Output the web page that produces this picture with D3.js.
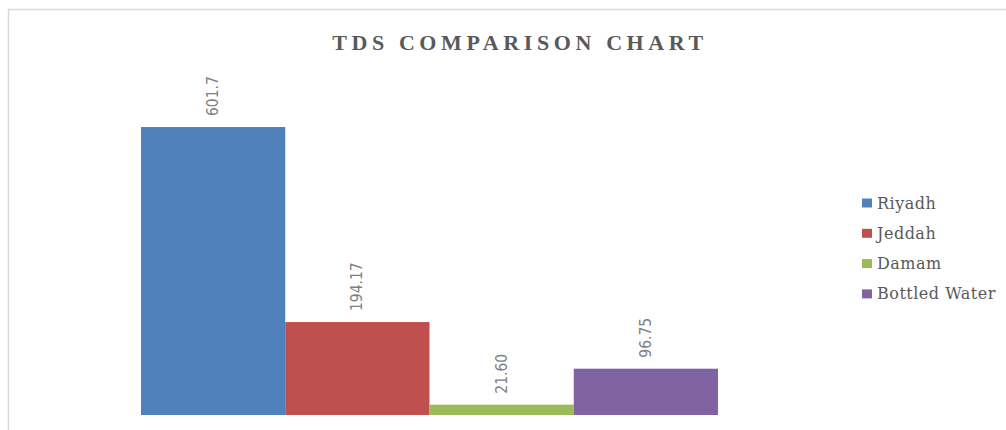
<!DOCTYPE html>
<html>
<head>
<meta charset="utf-8">
<script src="https://cdn.jsdelivr.net/npm/d3@7"></script>
<style>
  body { margin: 0; background: #fff; }
  svg { display: block; }
</style>
</head>
<body>
<script>
    var width = 1006;
    var height = 430;

    // data
    var cities = ["Riyadh", "Jeddah", "Damam", "Bottled Water"];
    var tds = [601.7, 194.17, 21.60, 96.75];
    var tdsLabels = ["601.7", "194.17", "21.60", "96.75"];
    var colors = ["#4f81bd", "#c0504d", "#9bbb59", "#8064a2"];

    var svg = d3.select("body")
        .append("svg")
        .attr("width", width)
        .attr("height", height)

    // chart area border (only top/left visible)
    svg.append("rect")
        .attr("x", 8.5)
        .attr("y", 9.5)
        .attr("width", width + 10)
        .attr("height", height + 10)
        .attr("fill", "none")
        .attr("stroke", "#d9d9d9")
        .attr("stroke-width", 1.5)

    // title
    svg.append("text")
        .attr("x", 520)
        .attr("y", 50)
        .attr("text-anchor", "middle")
        .attr("font-family", "'Liberation Serif', 'DejaVu Serif', serif")
        .attr("font-weight", "bold")
        .attr("font-size", 22)
        .attr("letter-spacing", 4.6)
        .attr("fill", "#595959")
        .text("TDS COMPARISON CHART")

    var x = d3.scaleBand()
        .domain(cities)
        .range([141, 718])
        .padding(0)

    var y = d3.scaleLinear()
        .domain([0, 700])
        .range([415, 80])

    var g = svg.append("g")

    g.selectAll("rect")
        .data(tds)
        .enter()
        .append("rect")
        .attr("x", function(d, i) { return x(cities[i]); })
        .attr("y", function(d) { return y(d); })
        .attr("width", x.bandwidth())
        .attr("height", function(d) { return y(0) - y(d); })
        .attr("fill", function(d, i) { return colors[i]; })

    // value labels, rotated
    g.selectAll(".val")
        .data(tds)
        .enter()
        .append("text")
        .attr("class", "val")
        .attr("transform", function(d, i) {
            var cx = x(cities[i]) + x.bandwidth() / 2;
            return "translate(" + (cx + 5) + "," + (y(d) - 11) + ") rotate(-90)";
        })
        .attr("text-anchor", "start")
        .attr("font-family", "'Liberation Sans Narrow', 'DejaVu Sans Condensed', sans-serif")
        .attr("font-size", 15.5)
        .attr("fill", "#7f7f7f")
        .text(function(d, i) { return tdsLabels[i]; })

    // legend
    var legend = svg.append("g")
        .selectAll("g")
        .data(cities)
        .enter()
        .append("g")
        .attr("transform", function(d, i) { return "translate(862," + (203 + i * 30.3) + ")"; })

    legend.append("rect")
        .attr("x", 0)
        .attr("y", -4.5)
        .attr("width", 10)
        .attr("height", 9)
        .attr("fill", function(d, i) { return colors[i]; })

    legend.append("text")
        .attr("x", 15)
        .attr("y", 5.5)
        .attr("font-family", "'DejaVu Serif', 'Liberation Serif', serif")
        .attr("font-size", 16)
        .attr("letter-spacing", 0.5)
        .attr("fill", "#595959")
        .text(function(d) { return d; })
</script>
</body>
</html>
